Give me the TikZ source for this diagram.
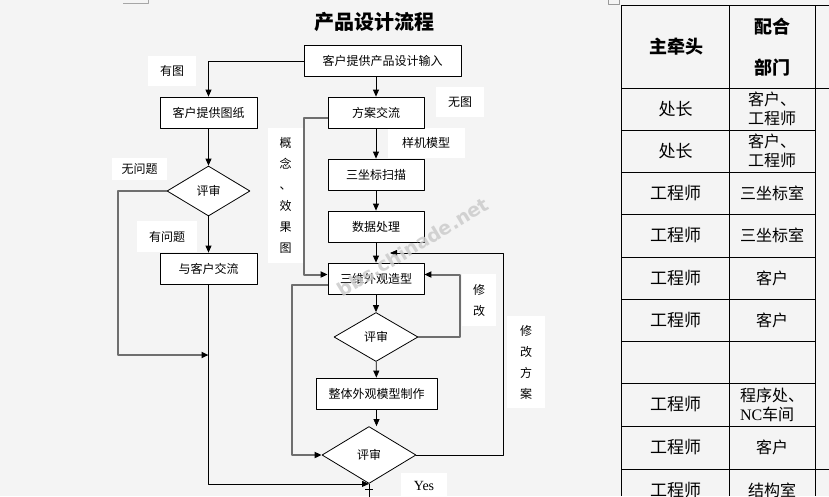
\documentclass[tikz,border=0pt]{standalone}
\usepackage{fontspec}
\setmainfont{Noto Sans CJK SC}
\newfontfamily\latinfont{Liberation Serif}
\newfontfamily\markfont{DejaVu Sans}
\usetikzlibrary{shapes.geometric,arrows.meta}
\definecolor{paper}{HTML}{F4F4F4}
\definecolor{loopgray}{HTML}{6E6E6E}
\tikzset{
  box/.style={draw, fill=white, line width=0.8pt, inner sep=0pt, minimum width=96pt, minimum height=31pt},
  decision/.style={draw, diamond, fill=white, line width=0.8pt, inner sep=0pt},
  note/.style={fill=white, inner sep=0pt},
  vnote/.style={note, align=center, font=\fontsize{12}{21}\selectfont},
  flow/.style={->, line width=0.8pt},
  back/.style={->, line width=2pt, draw=loopgray},
  lead/.style={font=\fontsize{17}{19}\selectfont},
  part/.style={font=\fontsize{16}{19}\selectfont, align=left},
}
\begin{document}
\begin{tikzpicture}[x=1pt, y=-1pt, line join=round, font=\fontsize{12}{14}\selectfont,
  >={Triangle[length=7pt,width=6pt,color=black]}]
\useasboundingbox (0,0) rectangle (829,496);
\fill[paper] (0,0) rectangle (829,496);
% page marks
\draw[gray!70] (123,3) -- (148,3) -- (148,0);
\draw[gray!80] (608,-1) rectangle (619,4);
\node[font=\fontsize{20}{22}\selectfont\bfseries] (title) at (374,22) {产品设计流程};

% labels on white
\node[note, minimum width=48pt, minimum height=30pt] (haspic) at (172,71) {有图};
\node[note, minimum width=48pt, minimum height=30pt] (nopic) at (460,102) {无图};
\node[note, minimum width=77pt, minimum height=30pt] (sample) at (426,143) {样机模型};
\node[note, minimum width=55pt, minimum height=22pt] (noissue) at (139.5,169) {无问题};
\node[note, minimum width=60pt, minimum height=31pt] (issue) at (167,236.5) {有问题};
\node[vnote, minimum width=35pt, minimum height=135pt] (concept) at (285.5,195.5) {概\\念\\、\\效\\果\\图};
\node[vnote, minimum width=34pt, minimum height=52pt] (fix) at (479,300) {修\\改};
\node[vnote, minimum width=38pt, minimum height=92pt] (replan) at (526,362) {修\\改\\方\\案};
\node[note, minimum width=46pt, minimum height=26pt, font=\latinfont\fontsize{14}{16}\selectfont] (yes) at (424,486) {Yes};

% main column
\node[box, minimum width=157pt] (input) at (382.5,61) {客户提供产品设计输入};
\node[box] (plan) at (376,112.5) {方案交流};
\node[box] (scan) at (376,174.5) {三坐标扫描};
\node[box] (data) at (376,226.5) {数据处理};
\node[box] (model) at (376,278.5) {三维外观造型};
\node[decision, minimum width=84pt, minimum height=49pt] (review1) at (376,337) {评审};
\node[box, minimum width=121pt] (proto) at (376.5,393.5) {整体外观模型制作};
\node[decision, minimum width=94pt, minimum height=57pt] (review2) at (369,455) {评审};

% left column
\node[box, minimum width=97pt] (drawing) at (208.5,112.5) {客户提供图纸};
\node[decision, minimum width=83pt, minimum height=50pt] (review0) at (208.5,191) {评审};
\node[box, minimum width=97pt] (talk) at (208.5,268.5) {与客户交流};
\coordinate (join) at (208.5,355);
\coordinate (reentry) at (390,253);

\draw[flow] (input.west) -| (drawing.north);
\draw[flow] (plan.north |- input.south) -- (plan.north);
\draw[flow] (plan) -- (scan);
\draw[flow] (scan) -- (data);
\draw[flow] (data) -- (model);
\draw[flow] (model) -- (review1);
\draw[flow] (review1) -- (proto);
\draw[flow] (proto.south) -- (proto.south |- review2.north);
\draw[flow] (drawing) -- (review0);
\draw[flow] (review0) -- (talk);
\draw[flow] (talk.south) |- (review2.south);
\draw[line width=0.8pt] (review2.south) -- ++(0,13);
\draw[line width=0.8pt] ([shift={(-4,5)}]review2.south) -- ++(8,0);

% return paths
\draw[back] ([yshift=-5pt]plan.west) -- ++(-24,0) |- ([yshift=4pt]model.west);
\draw[back] (review0.west) -- ++(-49,0) |- (join);
\draw[back] ([yshift=-6pt]model.west) -- ++(-36,0) |- (review2.west);
\draw[back] (review1.east) -- ++(42,0) |- ([yshift=4pt]model.east);
\draw[flow] (review2.east) -- ++(87,0) |- (reentry);

\node[rotate=31, font=\markfont\bfseries\fontsize{19}{19}\selectfont, text=gray!40, opacity=0.85] (mark) at (413,247) {bbs.chinade.net};

% table
\foreach \x in {621,729,815} \draw[line width=0.8pt] (\x,5) -- (\x,496);
\foreach \y in {5,88,469} \draw[line width=0.8pt] (621,\y) -- (829,\y);
\foreach \y in {130,172,214,257,299,341,383,426} \draw[line width=0.8pt] (621,\y) -- (815,\y);
\node[font=\fontsize{18}{20}\selectfont\bfseries] (headlead) at (676,47) {主牵头};
\node[font=\fontsize{18}{20}\selectfont\bfseries] (headpart1) at (772,27) {配合};
\node[font=\fontsize{18}{20}\selectfont\bfseries] (headpart2) at (772,68) {部门};
\foreach \y/\a/\b [count=\i] in {109/处长/{客户、\\工程师}, 151/处长/{客户、\\工程师},
    193/工程师/三坐标室, 235.5/工程师/三坐标室, 278/工程师/客户, 320/工程师/客户,
    404.5/工程师/{程序处、\\{\latinfont NC}车间}, 447.5/工程师/客户, 490/工程师/结构室} {
  \node[lead] (lead\i) at (675.5,\y) {\a};
  \node[part] (part\i) at (772,\y) {\b};
}
\end{tikzpicture}
\end{document}
